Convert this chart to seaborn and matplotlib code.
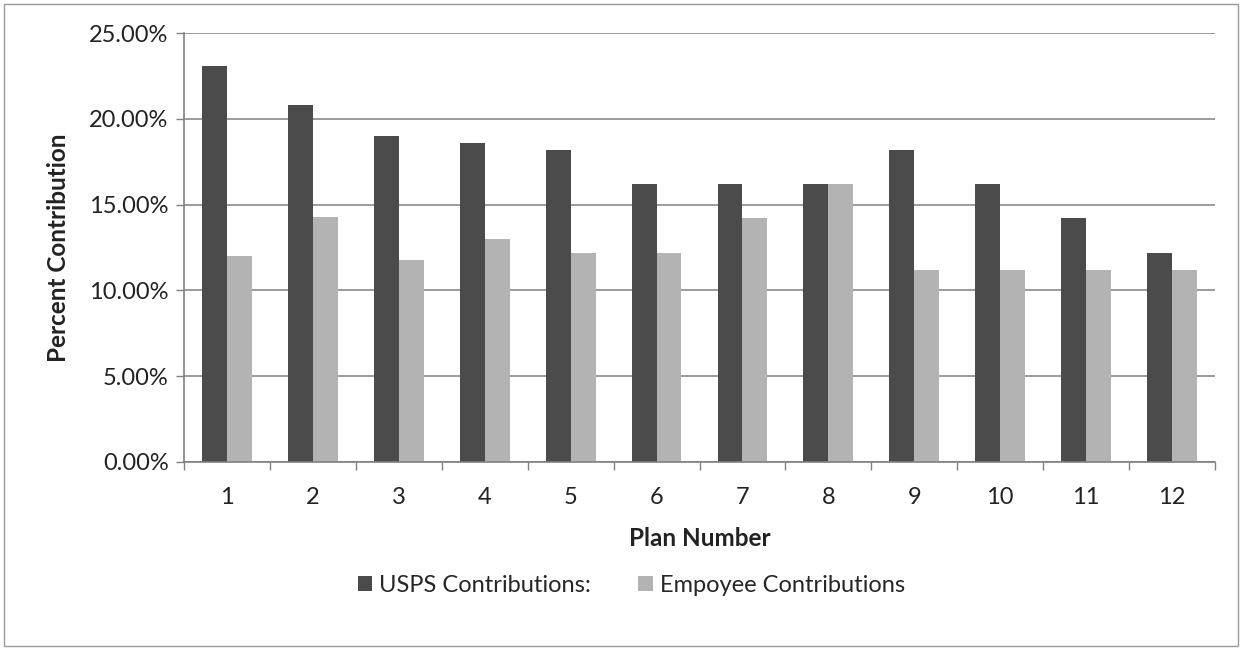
import matplotlib
matplotlib.use("Agg")
import matplotlib.pyplot as plt
from matplotlib.ticker import FuncFormatter, FixedLocator
from matplotlib.patches import Rectangle
import seaborn as sns
import pandas as pd
import numpy as np

# Contribution percentages per plan
plans = ["1", "2", "3", "4", "5", "6", "7", "8", "9", "10", "11", "12"]
usps = [23.1, 20.8, 19.0, 18.6, 18.2, 16.2, 16.2, 16.2, 18.2, 16.2, 14.2, 12.2]
employee = [12.0, 14.3, 11.8, 13.0, 12.2, 12.2, 14.2, 16.2, 11.2, 11.2, 11.2, 11.2]
series_names = ["USPS Contributions:", "Empoyee Contributions"]
y_ticks = [0, 5, 10, 15, 20, 25]

df = pd.DataFrame({
    "Plan": plans * 2,
    "Value": usps + employee,
    "Series": [series_names[0]] * len(plans) + [series_names[1]] * len(plans),
})

sns.set_theme(style="white")
plt.rcParams["font.family"] = ["Lato", "DejaVu Sans"]

fig = plt.figure(figsize=(12.43, 6.51), dpi=100)
ax = fig.add_axes([184 / 1243, 1 - 462 / 651, (1215 - 184) / 1243, (462 - 33) / 651])

palette = {series_names[0]: "#4b4b4b", series_names[1]: "#b3b3b3"}
sns.barplot(data=df, x="Plan", y="Value", hue="Series", order=plans,
            hue_order=series_names, palette=palette, width=0.58,
            saturation=1, linewidth=0, ax=ax, legend=True)

ax.set_ylim(0, 25)
ax.set_xlim(-0.5, len(plans) - 0.5)
ax.yaxis.set_major_locator(FixedLocator(y_ticks))
ax.yaxis.set_major_formatter(FuncFormatter(lambda v, _: f"{v:.2f}%"))
ax.grid(axis="y", color="#8a8a8a", linewidth=1.2)
ax.set_axisbelow(True)

for side in ["top", "right"]:
    ax.spines[side].set_visible(False)
for side in ["left", "bottom"]:
    ax.spines[side].set_color("#808080")
    ax.spines[side].set_linewidth(1.2)

# Category tick marks sit between the groups
ax.xaxis.set_minor_locator(FixedLocator(np.arange(-0.5, len(plans), 1.0)))
ax.tick_params(axis="x", which="major", length=0, labelsize=17, pad=18, colors="#222222")
ax.tick_params(axis="x", which="minor", length=6, width=1, color="#808080", direction="out", bottom=True)
ax.tick_params(axis="y", which="major", length=6, width=1, color="#808080", direction="out",
               left=True, labelsize=17, pad=5, labelcolor="#222222")

ax.set_xlabel("Plan Number", fontsize=17.5, fontweight="bold", labelpad=14, color="#222222")
ax.set_ylabel("Percent Contribution", fontsize=17.5, fontweight="bold", labelpad=14, color="#222222")

# Legend centred on the figure, below the axis title
handles, labels = ax.get_legend_handles_labels()
ax.get_legend().remove()
fig.legend(handles, labels, loc="center", bbox_to_anchor=(0.508, 1 - 585 / 651), ncol=2,
           frameon=False, fontsize=17, handlelength=0.6, handleheight=0.6,
           handletextpad=0.3, columnspacing=2.0)

# Light outer frame around the chart area
fig.patches.append(Rectangle((4 / 1243, 5 / 651), 1234 / 1243, 642 / 651, transform=fig.transFigure,
                             fill=False, edgecolor="#9a9a9a", linewidth=1.0))

fig.savefig("out.png", dpi=100)
